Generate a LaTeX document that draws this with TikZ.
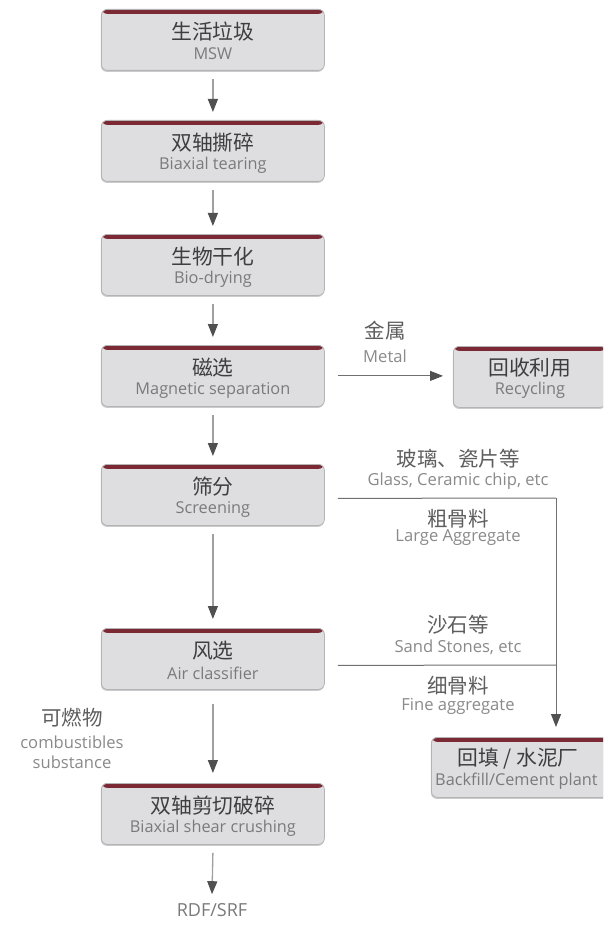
\documentclass[tikz,border=0pt]{standalone}
\usepackage{fontspec}
\setmainfont{Open Sans}
\newfontfamily\cjk{Noto Sans CJK SC}
\usetikzlibrary{arrows.meta,shadows}
\definecolor{boxfill}{HTML}{DEDEE0}
\definecolor{boxedge}{HTML}{B4B4B6}
\definecolor{band}{HTML}{7B2A35}
\definecolor{ttlcol}{HTML}{3E3E3E}
\definecolor{subcol}{HTML}{7A7A7A}
\definecolor{lblcn}{HTML}{5E5E5E}
\definecolor{lblen}{HTML}{8A8A8A}
\definecolor{vline}{HTML}{A0A0A0}
\definecolor{hline}{HTML}{707070}
\definecolor{tipcol}{HTML}{505050}
\begin{document}
\begin{tikzpicture}[x=1pt,y=-1pt,
  procbox/.style={draw=boxedge, line width=0.8pt, fill=boxfill, rounded corners=6pt,
    minimum height=61pt, inner sep=0pt, anchor=north west,
    drop shadow={shadow xshift=-0.5pt, shadow yshift=-1.5pt, fill=black!40, opacity=0.5},
    path picture={\fill[band] (path picture bounding box.north west) rectangle ([yshift=-4.5pt]path picture bounding box.north east);}},
  ttl/.style={font=\cjk\fontsize{20.8}{22}\selectfont, text=ttlcol, inner sep=0pt},
  sub/.style={font=\fontsize{16.3}{18}\selectfont, text=subcol, inner sep=0pt},
  lcn/.style={font=\cjk\fontsize{20.5}{22}\selectfont, text=lblcn, inner sep=0pt},
  len/.style={font=\fontsize{16.6}{18}\selectfont, text=lblen, inner sep=0pt},
  varr/.style={draw=vline, line width=1.3pt, -{Triangle[length=13pt,width=10pt,color=tipcol]}},
  harr/.style={draw=hline, line width=1pt, -{Triangle[length=13pt,width=10pt,color=tipcol]}},
  hline/.style={draw=hline, line width=1pt}
]
\clip (0,0) rectangle (603,925);
\fill[white] (0,0) rectangle (603,925);

% main column boxes
\node[procbox, minimum width=223pt] (b1) at (101,9) {};
\node[procbox, minimum width=223pt] (b2) at (101,120) {};
\node[procbox, minimum width=223pt] (b3) at (101,234) {};
\node[procbox, minimum width=223pt] (b4) at (101,345) {};
\node[procbox, minimum width=223pt] (b5) at (101,464) {};
\node[procbox, minimum width=223pt] (b6) at (101,628) {};
\node[procbox, minimum width=223pt] (b7) at (101,783) {};
\node[procbox, minimum width=153pt] (rc) at (453,346) {};
\node[procbox, minimum width=190pt, minimum height=60pt] (bf) at (431,737) {};

% box texts
\node[ttl] (t1) at ([yshift=-23pt]b1.north) {生活垃圾};
\node[sub] (s1) at ([yshift=-45pt]b1.north) {MSW};
\node[ttl] (t2) at ([yshift=-23pt]b2.north) {双轴撕碎};
\node[sub] (s2) at ([yshift=-45pt]b2.north) {Biaxial tearing};
\node[ttl] (t3) at ([yshift=-23pt]b3.north) {生物干化};
\node[sub] (s3) at ([yshift=-45pt]b3.north) {Bio-drying};
\node[ttl] (t4) at ([yshift=-23pt]b4.north) {磁选};
\node[sub] (s4) at ([yshift=-45pt]b4.north) {Magnetic separation};
\node[ttl] (t5) at ([yshift=-23pt]b5.north) {筛分};
\node[sub] (s5) at ([yshift=-45pt]b5.north) {Screening};
\node[ttl] (t6) at ([yshift=-23pt]b6.north) {风选};
\node[sub] (s6) at ([yshift=-45pt]b6.north) {Air classifier};
\node[ttl] (t7) at ([yshift=-23pt]b7.north) {双轴剪切破碎};
\node[sub] (s7) at ([yshift=-45pt]b7.north) {Biaxial shear crushing};
\node[ttl] (trc) at ([yshift=-22pt]rc.north) {回收利用};
\node[sub] (src) at ([yshift=-44pt]rc.north) {Recycling};
\node[ttl, anchor=center] (tbf) at (518,759) {回填 / 水泥厂};
\node[sub, anchor=west] (sbf) at ([xshift=4pt,yshift=-44pt]bf.north west) {Backfill/Cement plant};

% main arrows
\draw[varr] ([yshift=-8pt]b1.south) -- ([yshift=8pt]b2.north);
\draw[varr] ([yshift=-8pt]b2.south) -- ([yshift=8pt]b3.north);
\draw[varr] ([yshift=-8pt]b3.south) -- ([yshift=8pt]b4.north);
\draw[varr] ([yshift=-8pt]b4.south) -- ([yshift=8pt]b5.north);
\draw[varr] ([yshift=-8pt]b5.south) -- ([yshift=9pt]b6.north);
\draw[varr] ([yshift=-14pt]b6.south) -- ([yshift=10pt]b7.north);
\node[font=\fontsize{18}{20}\selectfont, text=subcol, inner sep=0pt] (rdf) at (212,910) {RDF/SRF};
\draw[varr] ([yshift=-8pt]b7.south) -- ([yshift=9pt]rdf.north);

% metal branch
\draw[harr] ([xshift=13pt]b4.east) -- ([xshift=-10pt]rc.west |- b4.east);
\node[lcn] (lm1) at (385,331) {金属};
\node[len] (lm2) at (385,356) {Metal};

% screening / air branches
\coordinate (corner) at (556,498);
\coordinate (airend) at (556,665);
\draw[hline] ([xshift=13pt,yshift=-3.5pt]b5.east) -- (corner);
\draw[harr] (corner) -- ([yshift=10pt]corner |- bf.north);
\draw[hline] ([xshift=13pt,yshift=-6.5pt]b6.east) -- (airend);

\node[lcn] (lg1) at (458,459) {玻璃、瓷片等};
\node[len] (lg2) at (458,481) {Glass, Ceramic chip, etc};
\node[lcn] (la1) at (458,519) {粗骨料};
\node[len] (la2) at (458,538) {Large Aggregate};
\node[lcn] (ls1) at (458,625) {沙石等};
\node[len] (ls2) at (458,647) {Sand Stones, etc};
\node[lcn] (lf1) at (458,686) {细骨料};
\node[len] (lf2) at (458,706) {Fine aggregate};

% combustibles label
\node[lcn] (lc1) at (72,718) {可燃物};
\node[len] (lc2) at (72,742) {combustibles};
\node[len] (lc3) at (72,762) {substance};
\end{tikzpicture}
\end{document}
